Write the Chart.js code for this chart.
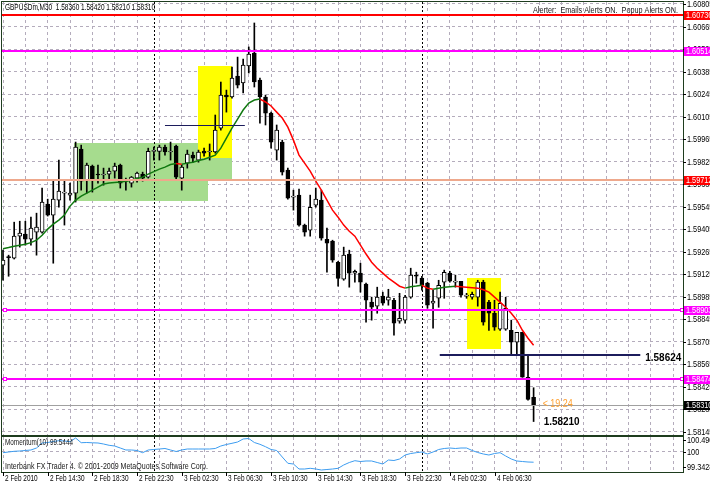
<!DOCTYPE html>
<html>
<head>
<meta charset="utf-8">
<title>GBPUSDm,M30</title>
<script src="https://cdn.jsdelivr.net/npm/chart.js@4.4.1/dist/chart.umd.min.js"></script>
<style>
    html, body { margin: 0; padding: 0; background: #fff; }
    #wrap { position: relative; width: 710px; height: 484px; overflow: hidden; background: #fff; }
    #priceChart { position: absolute; left: 0; top: 0; }
    #momChart { position: absolute; left: 0; top: 436px; }
</style>
</head>
<body>
<div id="wrap">
    <canvas id="priceChart" width="710" height="437"></canvas>
    <canvas id="momChart" width="710" height="48"></canvas>
</div>
<script>
// ---- chart data (GBPUSDm, M30, bar 0 = 2 Feb 2010 10:30) ----
const symbol = 'GBPUSDm';
const period = 'M30';

// tick labels on the time axis and the bars they sit on
const timeLabels = ['2 Feb 2010', '2 Feb 14:30', '2 Feb 18:30', '2 Feb 22:30', '3 Feb 02:30', '3 Feb 06:30',
    '3 Feb 10:30', '3 Feb 14:30', '3 Feb 18:30', '3 Feb 22:30', '4 Feb 02:30', '4 Feb 06:30'];
const timeLabelBars = [0, 8, 16, 24, 32, 40, 48, 56, 64, 72, 80, 88];

// bars where a new day starts (period separators)
const daySeparators = [27, 75];

// price scale tick labels
const priceTicks = [1.60805, 1.60665, 1.60525, 1.60385, 1.60245, 1.60105, 1.59965, 1.59825, 1.59685, 1.59545,
    1.59405, 1.59265, 1.59125, 1.58985, 1.58845, 1.58705, 1.58565, 1.58425, 1.58285, 1.58145];

const opens = [
    1.59182, 1.59235, 1.59225, 1.59362, 1.59375, 1.59343, 1.59387, 1.59387, 1.59561, 1.59493, 1.59586, 1.59630,
    1.59617, 1.59630, 1.59903, 1.59710, 1.59797, 1.59748, 1.59742, 1.59748, 1.59766, 1.59804, 1.59704, 1.59692,
    1.59723, 1.59748, 1.59729, 1.59889, 1.59889, 1.59916, 1.59885, 1.59922, 1.59723, 1.59816, 1.59866, 1.59835,
    1.59891, 1.59885, 1.59885, 1.60034, 1.60239, 1.60227, 1.60357, 1.60314, 1.60420, 1.60500, 1.60332, 1.60227,
    1.60127, 1.59897, 1.59947, 1.59773, 1.59605, 1.59617, 1.59431, 1.59399, 1.59555, 1.59586, 1.59343, 1.59331,
    1.59200, 1.59095, 1.59251, 1.59132, 1.59132, 1.59064, 1.58952, 1.58927, 1.58989, 1.58964, 1.58964, 1.58833,
    1.58840, 1.58983, 1.59120, 1.59101, 1.59070, 1.58945, 1.58976, 1.59076, 1.59132, 1.59076, 1.59082, 1.58989,
    1.58983, 1.58983, 1.59076, 1.58952, 1.58883, 1.58784, 1.58784, 1.58777, 1.58703, 1.58765, 1.58485, 1.58360
];
const highs = [
    1.59275, 1.59244, 1.59449, 1.59455, 1.59455, 1.59480, 1.59505, 1.59661, 1.59592, 1.59704, 1.59835, 1.59704,
    1.59692, 1.59947, 1.59928, 1.59816, 1.59804, 1.59804, 1.59785, 1.59785, 1.59816, 1.59810, 1.59723, 1.59733,
    1.59760, 1.59760, 1.59909, 1.59916, 1.59928, 1.59928, 1.59947, 1.59928, 1.59804, 1.59897, 1.59885, 1.59897,
    1.59909, 1.59935, 1.60115, 1.60320, 1.60270, 1.60413, 1.60475, 1.60463, 1.60538, 1.60687, 1.60345, 1.60239,
    1.60133, 1.60053, 1.59959, 1.59785, 1.59648, 1.59654, 1.59437, 1.59617, 1.59661, 1.59648, 1.59412, 1.59337,
    1.59206, 1.59294, 1.59275, 1.59151, 1.59194, 1.59070, 1.58983, 1.59045, 1.59014, 1.59032, 1.58976, 1.59007,
    1.58995, 1.59163, 1.59138, 1.59113, 1.59076, 1.59026, 1.59088, 1.59151, 1.59144, 1.59120, 1.59082, 1.59007,
    1.59014, 1.59088, 1.59088, 1.58964, 1.58964, 1.59014, 1.58983, 1.58840, 1.58765, 1.58765, 1.58622, 1.58420
];
const lows = [
    1.59088, 1.59113, 1.59220, 1.59294, 1.59306, 1.59306, 1.59244, 1.59381, 1.59487, 1.59194, 1.59542, 1.59431,
    1.59586, 1.59574, 1.59648, 1.59630, 1.59636, 1.59692, 1.59679, 1.59710, 1.59723, 1.59661, 1.59648, 1.59667,
    1.59698, 1.59704, 1.59723, 1.59835, 1.59835, 1.59866, 1.59835, 1.59710, 1.59648, 1.59785, 1.59822, 1.59822,
    1.59860, 1.59835, 1.59878, 1.60021, 1.60133, 1.60220, 1.60283, 1.60252, 1.60376, 1.60289, 1.60065, 1.60053,
    1.59909, 1.59835, 1.59742, 1.59592, 1.59524, 1.59424, 1.59362, 1.59362, 1.59542, 1.59337, 1.59138, 1.59200,
    1.59051, 1.59088, 1.59045, 1.59076, 1.59014, 1.58827, 1.58840, 1.58883, 1.58933, 1.58933, 1.58746, 1.58821,
    1.58821, 1.58976, 1.59070, 1.59026, 1.58914, 1.58790, 1.58920, 1.58976, 1.59076, 1.59045, 1.58983, 1.58976,
    1.58970, 1.58927, 1.58809, 1.58777, 1.58777, 1.58777, 1.58777, 1.58622, 1.58622, 1.58485, 1.58342, 1.58210
];
const closes = [
    1.59213, 1.59228, 1.59362, 1.59381, 1.59343, 1.59412, 1.59418, 1.59574, 1.59493, 1.59592, 1.59642, 1.59636,
    1.59630, 1.59916, 1.59704, 1.59804, 1.59717, 1.59742, 1.59748, 1.59766, 1.59797, 1.59692, 1.59710, 1.59729,
    1.59754, 1.59723, 1.59889, 1.59895, 1.59916, 1.59885, 1.59891, 1.59729, 1.59791, 1.59872, 1.59847, 1.59885,
    1.59878, 1.59891, 1.60021, 1.60239, 1.60227, 1.60345, 1.60301, 1.60426, 1.60494, 1.60320, 1.60227, 1.60127,
    1.59947, 1.60021, 1.59760, 1.59598, 1.59611, 1.59431, 1.59387, 1.59542, 1.59592, 1.59350, 1.59319, 1.59213,
    1.59100, 1.59244, 1.59132, 1.59144, 1.59076, 1.58964, 1.58920, 1.58983, 1.58945, 1.58983, 1.58821, 1.58852,
    1.58983, 1.59120, 1.59113, 1.59057, 1.58933, 1.58958, 1.59057, 1.59138, 1.59082, 1.59082, 1.58995, 1.58995,
    1.59001, 1.59076, 1.58827, 1.58883, 1.58796, 1.58945, 1.58914, 1.58703, 1.58765, 1.58485, 1.58348, 1.58310
];

// moving average drawn green while rising, red while falling
const maValues = [
    1.59284, 1.59291, 1.59300, 1.59306, 1.59312, 1.59322, 1.59337, 1.59368, 1.59406, 1.59437, 1.59462, 1.59493,
    1.59549, 1.59586, 1.59611, 1.59630, 1.59648, 1.59667, 1.59686, 1.59692, 1.59695, 1.59698, 1.59704, 1.59710,
    1.59720, 1.59729, 1.59748, 1.59763, 1.59779, 1.59791, 1.59807, 1.59813, 1.59809, 1.59816, 1.59822, 1.59832,
    1.59840, 1.59853, 1.59866, 1.59909, 1.59972, 1.60034, 1.60090, 1.60146, 1.60189, 1.60208, 1.60214, 1.60196,
    1.60171, 1.60133, 1.60096, 1.60040, 1.59959, 1.59866, 1.59816, 1.59766, 1.59704, 1.59648, 1.59586, 1.59524,
    1.59480, 1.59431, 1.59393, 1.59362, 1.59306, 1.59251, 1.59200, 1.59163, 1.59132, 1.59101, 1.59076, 1.59051,
    1.59039, 1.59048, 1.59052, 1.59057, 1.59039, 1.59032, 1.59039, 1.59045, 1.59048, 1.59051, 1.59048, 1.59045,
    1.59042, 1.59039, 1.59029, 1.59014, 1.58983, 1.58952, 1.58920, 1.58883, 1.58840, 1.58777, 1.58728, 1.58684
];

// Momentum(10)
const momentum = [
    99.949, 99.979, 100.009, 100.021, 100.043, 100.064, 100.149, 100.362, 100.383, 100.426, 100.460, 100.447,
    100.417, 100.574, 100.374, 100.383, 100.370, 100.362, 100.319, 100.264, 100.234, 100.149, 100.064, 100.064,
    100.043, 99.949, 100.064, 100.085, 100.106, 100.128, 100.064, 100.000, 100.064, 100.106, 100.106, 100.106,
    100.106, 100.106, 100.128, 100.234, 100.298, 100.349, 100.404, 100.532, 100.553, 100.383, 100.306, 100.204,
    100.085, 100.043, 99.766, 99.498, 99.468, 99.255, 99.255, 99.285, 99.255, 99.213, 99.234, 99.255,
    99.285, 99.426, 99.532, 99.609, 99.574, 99.596, 99.596, 99.532, 99.468, 99.638, 99.617, 99.681,
    99.851, 99.915, 99.949, 99.979, 99.894, 99.979, 100.085, 100.128, 100.149, 100.128, 100.149, 100.149,
    100.043, 99.957, 99.894, 99.851, 99.915, 99.949, 99.809, 99.681, 99.596, 99.574, 99.553, 99.5444
];
const momentumTicks = [100.490, 100, 99.3428];

// horizontal price lines and their right-axis labels
const levelPrices = [1.60736, 1.60514, 1.59712, 1.58903, 1.58474, 1.58310];
const levelStyles = [
    { line: '#ff0000', width: 2, box: '#ff0000' },
    { line: '#ff00ff', width: 2, box: '#ff00ff' },
    { line: '#eea88c', width: 2, box: '#ff0000' },
    { line: '#ff00ff', width: 2, box: '#ff00ff', handles: true },
    { line: '#ff00ff', width: 2, box: '#ff00ff', handles: true },
    { line: '#a0a0a0', width: 1, box: '#000000' }
];

// drawn rectangles (bar index from / to, price top / bottom)
const rectFrom = [12.7, 30.8, 34.9, 83.1];
const rectTo = [36.7, 41.0, 41.0, 89.2];
const rectTop = [1.59941, 1.59941, 1.60420, 1.59101];
const rectBottom = [1.59580, 1.59704, 1.59847, 1.58659];
const rectColors = ['#a6dc8e', '#a6dc8e', '#ffff00', '#ffff00'];

// short horizontal trend lines
const trendFrom = [29.0, 78.2];
const trendTo = [43.3, 114.1];
const trendPrice = [1.60053, 1.58624];
const trendWidths = [1, 2];

// text marks
const signalText = '< 19.24';

// ---- layout ----
const xMin = -0.18;
const xMax = 121.75;
const priceMax = 1.608174;
const priceMin = 1.581263;
const momMax = 100.617;
const momMin = 99.128;
const gridColor = '#b4acbc';
const frameColor = '#1e3c1e';
const FONT = '"Liberation Sans", Arial, sans-serif';

const gridBars = [];
for (let b = 0; b <= 120; b += 4) gridBars.push(b);

const last = closes.length - 1;

/**
 * Draws text squeezed horizontally (MT4 screenshots use a narrow Tahoma)
 */
const drawText = (ctx, text, x, y, opts = {}) => {
    const { size = 8.5, weight = '', color = '#000', width = null, sx = 0.8 } = opts;
    ctx.save();
    ctx.font = `${weight} ${size}px ${FONT}`;
    ctx.fillStyle = color;
    ctx.textBaseline = 'middle';
    ctx.textAlign = 'left';
    const k = width ? width / ctx.measureText(text).width : sx;
    ctx.translate(x, y);
    ctx.scale(k, 1);
    ctx.fillText(text, 0, 0);
    ctx.restore();
};

const drawSeparators = (chart) => {
    const { ctx, chartArea, scales } = chart;
    ctx.save();
    ctx.strokeStyle = '#000';
    ctx.lineWidth = 1;
    ctx.setLineDash([2, 2]);
    daySeparators.forEach(b => {
        const x = Math.round(scales.x.getPixelForValue(b)) + 0.5;
        ctx.beginPath();
        ctx.moveTo(x, chartArea.top);
        ctx.lineTo(x, chartArea.bottom);
        ctx.stroke();
    });
    ctx.restore();
};

// rectangles and separators behind the candles
const backgroundPlugin = {
    id: 'mtBackground',
    beforeDatasetsDraw(chart) {
        const { ctx, scales } = chart;
        ctx.save();
        rectFrom.forEach((from, i) => {
            const x0 = scales.x.getPixelForValue(from);
            const x1 = scales.x.getPixelForValue(rectTo[i]);
            const y0 = scales.y.getPixelForValue(rectTop[i]);
            const y1 = scales.y.getPixelForValue(rectBottom[i]);
            ctx.fillStyle = rectColors[i];
            ctx.fillRect(Math.round(x0), Math.round(y0), Math.round(x1 - x0), Math.round(y1 - y0));
        });
        ctx.restore();
        drawSeparators(chart);
    }
};

// price lines, labels, frame and texts over the candles
const overlayPlugin = {
    id: 'mtOverlay',
    afterDatasetsDraw(chart) {
        const { ctx, chartArea, scales } = chart;
        const ys = scales.y;
        ctx.save();

        // trend lines
        trendFrom.forEach((from, i) => {
            const y = Math.round(ys.getPixelForValue(trendPrice[i])) + (trendWidths[i] === 1 ? 0.5 : 0);
            ctx.strokeStyle = '#1c1c5c';
            ctx.lineWidth = trendWidths[i];
            ctx.beginPath();
            ctx.moveTo(scales.x.getPixelForValue(from), y);
            ctx.lineTo(scales.x.getPixelForValue(trendTo[i]), y);
            ctx.stroke();
        });

        // horizontal levels
        levelPrices.forEach((p, i) => {
            const st = levelStyles[i];
            const y = Math.round(ys.getPixelForValue(p)) + (st.width % 2 ? 0.5 : 0);
            ctx.strokeStyle = st.line;
            ctx.lineWidth = st.width;
            ctx.beginPath();
            ctx.moveTo(chartArea.left, y);
            ctx.lineTo(chartArea.right, y);
            ctx.stroke();
            if (st.handles) {
                ctx.fillStyle = '#fff';
                ctx.lineWidth = 1;
                [chartArea.left + 1, chartArea.right - 3].forEach(hx => {
                    ctx.fillRect(hx, y - 2, 4, 4);
                    ctx.strokeRect(hx + 0.5, y - 1.5, 3, 3);
                });
            }
        });
        ctx.restore();

        // text marks near the last bar
        const tx = scales.x.getPixelForValue(trendTo[1]) + 5;
        drawText(ctx, trendPrice[1].toFixed(5), tx, ys.getPixelForValue(trendPrice[1]) + 3,
            { size: 11, weight: 'bold', width: 36 });
        const lx = scales.x.getPixelForValue(last + 1.8);
        drawText(ctx, lows[last].toFixed(5), lx, ys.getPixelForValue(lows[last]),
            { size: 11, weight: 'bold', width: 36 });
        drawText(ctx, signalText, lx - 1, ys.getPixelForValue(closes[last]) - 1,
            { size: 11, color: '#ffa030', width: 30 });
    },
    afterDraw(chart) {
        const { ctx, chartArea, scales } = chart;
        const ys = scales.y;
        ctx.save();

        // frame
        ctx.strokeStyle = frameColor;
        ctx.lineWidth = 1;
        ctx.strokeRect(chartArea.left - 0.5, chartArea.top - 0.5,
            chartArea.right - chartArea.left + 1, chartArea.bottom - chartArea.top + 1);

        // price axis ticks and labels
        ctx.fillStyle = '#000';
        priceTicks.forEach(v => {
            const y = Math.round(ys.getPixelForValue(v));
            ctx.fillRect(chartArea.right, y, 3, 1);
            drawText(ctx, v.toFixed(5), chartArea.right + 4, y + 0.5, { sx: 0.86 });
        });

        // price line labels
        levelPrices.forEach((p, i) => {
            const y = Math.round(ys.getPixelForValue(p));
            ctx.fillStyle = levelStyles[i].box;
            ctx.fillRect(chartArea.right + 1, y - 4, 30, 9);
            drawText(ctx, p.toFixed(5), chartArea.right + 3, y + 0.5, { color: '#fff', sx: 0.86 });
        });
        ctx.restore();

        // header texts
        const header = `${symbol},${period}  ${opens[last].toFixed(5)} ${highs[last].toFixed(5)} ` +
            `${lows[last].toFixed(5)} ${closes[last].toFixed(5)}`;
        drawText(ctx, header, 5, 7.5, { size: 9, width: 150 });
        drawText(ctx, 'Alerter:  Emails Alerts ON.  Popup Alerts ON.', 533, 10.5,
            { size: 9, color: '#202020', width: 145 });
    }
};

// momentum panel texts, axis labels and time labels
const momentumPlugin = {
    id: 'mtMomentum',
    beforeDatasetsDraw(chart) {
        drawSeparators(chart);
    },
    afterDraw(chart) {
        const { ctx, chartArea, scales } = chart;
        ctx.save();
        ctx.strokeStyle = frameColor;
        ctx.lineWidth = 1;
        ctx.strokeRect(chartArea.left - 0.5, chartArea.top - 0.5,
            chartArea.right - chartArea.left + 1, chartArea.bottom - chartArea.top + 1);

        ctx.fillStyle = '#000';
        momentumTicks.forEach(v => {
            const y = Math.round(scales.y.getPixelForValue(v));
            ctx.fillRect(chartArea.right, y, 3, 1);
            drawText(ctx, v === 100 ? '100' : String(v.toFixed(v === 100.49 ? 3 : 4)),
                chartArea.right + 4, y + 0.5, { sx: 0.86 });
        });

        timeLabelBars.forEach((b, i) => {
            const x = Math.round(scales.x.getPixelForValue(b));
            ctx.fillRect(x, chartArea.bottom, 1, 4);
            drawText(ctx, timeLabels[i], x + 2, chartArea.bottom + 6.5, { sx: 0.76 });
        });
        ctx.restore();

        drawText(ctx, `Momentum(10) ${momentum[last].toFixed(4)}`, 5, 6.5, { size: 9, color: '#202020', width: 68 });
        drawText(ctx, 'Interbank FX Trader 4. \u00a9 2001-2009 MetaQuotes Software Corp.', 5, 30.5,
            { size: 9, color: '#202020', width: 203 });
    }
};

const xScale = (hide) => ({
    type: 'linear',
    min: xMin,
    max: xMax,
    offset: false,
    afterBuildTicks: s => { s.ticks = gridBars.map(v => ({ value: v })); },
    afterFit: s => { s.height = hide ? 0 : 12; },
    ticks: { display: false },
    grid: { color: gridColor, lineWidth: 1, drawTicks: false, offset: false },
    border: { display: false, dash: [3, 3] }
});

const baseOptions = {
    responsive: false,
    animation: false,
    events: [],
    plugins: { legend: { display: false }, tooltip: { enabled: false } }
};

new Chart(document.getElementById('priceChart'), {
    type: 'bar',
    data: {
        datasets: [
            {
                type: 'line',
                data: maValues.map((v, i) => ({ x: i, y: v })),
                borderWidth: 1.5,
                borderColor: '#008000',
                pointRadius: 0,
                segment: {
                    borderColor: c => (c.p1.parsed.y >= c.p0.parsed.y ? '#107810' : '#ff0000')
                },
                order: 0
            },
            {
                data: opens.map((o, i) => ({ x: i, y: [o, closes[i]] })),
                backgroundColor: c => (closes[c.dataIndex] >= opens[c.dataIndex] ? '#ffffff' : '#000000'),
                borderColor: '#000000',
                borderWidth: 1,
                borderSkipped: false,
                barThickness: 4,
                minBarLength: 1,
                grouped: false,
                order: 1
            },
            {
                data: lows.map((l, i) => ({ x: i, y: [l, highs[i]] })),
                backgroundColor: '#000000',
                borderWidth: 0,
                barThickness: 1,
                grouped: false,
                order: 2
            }
        ]
    },
    options: {
        ...baseOptions,
        layout: { padding: { left: 2, top: 2, right: 0, bottom: 2 } },
        scales: {
            x: xScale(true),
            y: {
                position: 'right',
                min: priceMin,
                max: priceMax,
                afterBuildTicks: s => { s.ticks = priceTicks.map(v => ({ value: v })); },
                afterFit: s => { s.width = 27; },
                ticks: { display: false },
                grid: { color: gridColor, drawTicks: false },
                border: { display: false, dash: [3, 3] }
            }
        }
    },
    plugins: [backgroundPlugin, overlayPlugin]
});

new Chart(document.getElementById('momChart'), {
    type: 'line',
    data: {
        datasets: [{
            data: momentum.map((v, i) => ({ x: i, y: v })),
            borderColor: '#3c9cf0',
            borderWidth: 1,
            pointRadius: 0
        }]
    },
    options: {
        ...baseOptions,
        layout: { padding: { left: 2, top: 1, right: 0, bottom: 0 } },
        scales: {
            x: xScale(false),
            y: {
                position: 'right',
                min: momMin,
                max: momMax,
                afterBuildTicks: s => { s.ticks = momentumTicks.map(v => ({ value: v })); },
                afterFit: s => { s.width = 27; },
                ticks: { display: false },
                grid: {
                    color: c => (c.tick && c.tick.value === 100 ? gridColor : 'rgba(0,0,0,0)'),
                    drawTicks: false
                },
                border: { display: false, dash: [3, 3] }
            }
        }
    },
    plugins: [momentumPlugin]
});
</script>
</body>
</html>
